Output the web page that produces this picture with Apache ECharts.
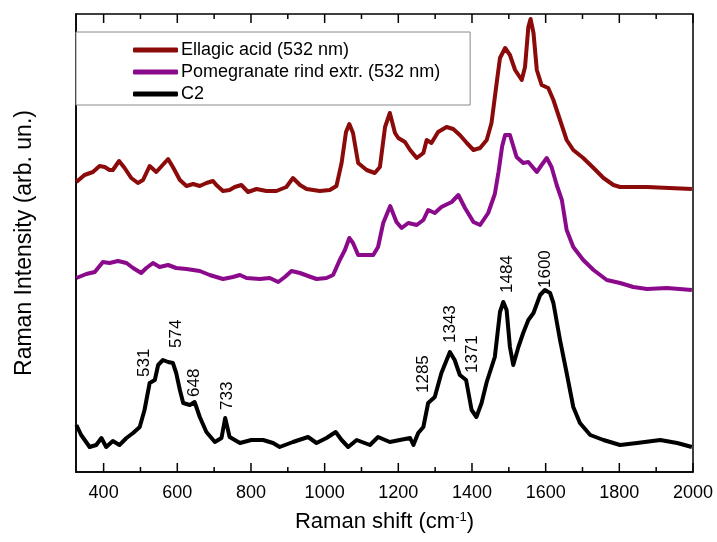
<!DOCTYPE html>
<html>
<head>
<meta charset="utf-8">
<script src="https://cdn.jsdelivr.net/npm/echarts@6/dist/echarts.min.js"></script>
<style>
  html, body { margin: 0; padding: 0; background: #fff; }
  #chart { width: 717px; height: 542px; }
</style>
</head>
<body>
<div id="chart"></div>
<script>
// Raman spectra, wavenumber (cm-1) vs arbitrary intensity (stacked offsets)
const ellagicX = [326,348,371,389,403,416,425,442,457,475,493,507,525,543,575,588,607,625,643,661,679,697,706,724,742,756,774,792,815,842,869,896,914,933,951,987,1014,1032,1046,1058,1067,1077,1091,1114,1136,1150,1164,1177,1191,1200,1218,1232,1250,1268,1277,1290,1308,1331,1349,1367,1386,1404,1422,1440,1453,1467,1476,1490,1503,1517,1535,1544,1553,1559,1567,1576,1589,1607,1621,1639,1657,1675,1702,1730,1757,1784,1802,1875,1997];
const ellagicY = [290,297,300,306,305,302,302,311,304,294,289,292,306,300,313,305,292,286,288,286,289,291,287,281,282,285,287,280,283,281,281,285,294,287,283,281,282,286,309,340,348,339,309,302,299,305,345,359,339,334,330,322,314,319,332,329,340,345,343,337,329,322,324,332,349,389,414,424,417,402,392,405,445,453,439,402,387,384,372,352,332,322,314,304,294,287,285,285,283];

const pomX = [326,353,376,398,416,439,462,480,502,516,534,552,575,597,625,661,688,724,751,770,788,824,851,874,892,910,933,955,978,1005,1023,1041,1055,1067,1077,1091,1132,1145,1159,1178,1195,1209,1227,1250,1268,1281,1299,1317,1345,1363,1381,1404,1422,1444,1462,1472,1482,1490,1503,1521,1539,1553,1576,1589,1603,1616,1630,1644,1657,1675,1702,1730,1766,1802,1838,1875,1929,1997];
const pomY = [194,198,200,210,209,211,209,204,199,204,209,205,207,204,203,201,197,193,195,197,194,193,194,190,195,201,199,196,193,194,197,212,222,234,229,217,217,225,249,266,250,244,249,247,252,262,259,265,270,277,264,250,247,259,278,300,326,337,337,315,309,310,300,307,314,305,287,272,242,225,212,202,192,189,185,183,184,182];

const c2X = [326,339,362,380,394,407,425,443,462,480,498,511,525,539,548,561,575,588,597,607,616,634,647,661,679,702,720,730,742,770,801,833,860,878,914,955,978,1005,1030,1046,1064,1087,1123,1145,1177,1204,1232,1241,1254,1268,1281,1299,1317,1340,1353,1367,1384,1399,1412,1426,1440,1462,1476,1485,1494,1503,1512,1526,1539,1553,1567,1585,1598,1612,1621,1639,1657,1675,1693,1721,1757,1802,1848,1911,1957,1997];
const c2Y = [47,37,25,27,34,25,31,27,34,39,45,62,89,92,107,112,110,109,99,82,69,67,70,55,40,30,34,54,35,29,32,32,29,25,30,35,29,34,40,32,25,32,27,35,30,32,34,27,39,45,69,75,99,120,112,97,92,62,55,69,90,115,160,170,162,125,107,125,139,152,159,177,182,179,169,132,99,65,49,37,32,27,29,32,29,25];

// peak annotations on C2 (label anchor = bottom of the rotated text)
const peakNames = ['531','574','648','733','1285','1343','1371','1484','1600'];
const peakX = [511,597,647,737,1267,1340,1400,1495,1598];
const peakY = [95,124,75,62,79,129,99,179,184];

const majorTicks = [400,600,800,1000,1200,1400,1600,1800,2000];
const minorTicks = [500,700,900,1100,1300,1500,1700,1900];

const seriesNames = ['Ellagic acid (532 nm)', 'Pomegranate rind extr. (532 nm)', 'C2'];
const seriesColors = ['#8b0a0a', '#8b0a8b', '#000000'];

const X_MIN = 325, X_MAX = 2000, Y_MIN = 0, Y_MAX = 458;

const zip = (xs, ys) => xs.map((x, i) => [x, ys[i]]);
const FONT = '"Liberation Sans", Arial, sans-serif';
const axisLineStyle = { color: '#000', width: 1.5 };

const chart = echarts.init(document.getElementById('chart'));

// inward ticks on bottom and top frame edges, placed through the x scale
function renderTick(params, api) {
    const v = api.value(0);
    const len = majorTicks.indexOf(v) >= 0 ? 9 : 5;
    const b = api.coord([v, Y_MIN]);
    const t = api.coord([v, Y_MAX]);
    const style = { stroke: '#000', lineWidth: 1.5 };
    return {
        type: 'group',
        children: [
            { type: 'line', shape: { x1: b[0], y1: b[1], x2: b[0], y2: b[1] - len }, style: style },
            { type: 'line', shape: { x1: t[0], y1: t[1], x2: t[0], y2: t[1] + len }, style: style },
        ],
    };
}

const option = {
    animation: false,
    textStyle: { fontFamily: FONT },
    grid: {
        left: 76, right: 24, top: 14, bottom: 70,
        show: true, borderColor: '#000', borderWidth: 1.5,
    },
    legend: {
        data: seriesNames,
        orient: 'vertical',
        left: 76, top: 32,
        backgroundColor: '#fff',
        borderColor: '#8a8a8a', borderWidth: 1,
        padding: [7, 30, 0, 57],
        itemGap: 0,
        itemWidth: 45, itemHeight: 5,
        icon: 'roundRect',
        textStyle: { fontSize: 18, color: '#000', lineHeight: 22, fontFamily: FONT, padding: [0, 0, 0, -2] },
    },
    xAxis: {
        type: 'value', min: X_MIN, max: X_MAX, position: 'bottom',
        splitLine: { show: false },
        axisLine: { show: true, onZero: false, lineStyle: axisLineStyle },
        name: 'Raman shift (cm{sup|-1})',
        nameLocation: 'middle', nameGap: 39,
        nameTextStyle: {
            fontSize: 22, color: '#000', fontFamily: FONT,
            rich: { sup: { fontSize: 13, verticalAlign: 'top', padding: [0, 0, 8, 0], fontFamily: FONT } },
        },
        axisTick: { show: false },
        axisLabel: { show: true, customValues: majorTicks, fontSize: 18, color: '#000', margin: 12, fontFamily: FONT,
            formatter: v => String(v) },
    },
    yAxis: {
        type: 'value', min: Y_MIN, max: Y_MAX, position: 'left',
        name: 'Raman Intensity (arb. un.)',
        nameLocation: 'middle', nameGap: 40,
        nameTextStyle: { fontSize: 23, color: '#000', fontFamily: FONT },
        axisLine: { show: true, onZero: false, lineStyle: axisLineStyle },
        axisTick: { show: false },
        axisLabel: { show: false },
        splitLine: { show: false },
    },
    series: [
        {
            name: seriesNames[0], type: 'line', symbol: 'none',
            data: zip(ellagicX, ellagicY),
            lineStyle: { color: seriesColors[0], width: 4, join: 'round' },
            itemStyle: { color: seriesColors[0] },
        },
        {
            name: seriesNames[1], type: 'line', symbol: 'none',
            data: zip(pomX, pomY),
            lineStyle: { color: seriesColors[1], width: 4, join: 'round' },
            itemStyle: { color: seriesColors[1] },
        },
        {
            name: seriesNames[2], type: 'line', symbol: 'none',
            data: zip(c2X, c2Y),
            lineStyle: { color: seriesColors[2], width: 4, join: 'round' },
            itemStyle: { color: seriesColors[2] },
        },
        {
            name: 'peaks', type: 'scatter', symbolSize: 0,
            data: peakNames.map((n, i) => ({ name: n, value: [peakX[i], peakY[i]] })),
            itemStyle: { opacity: 1 },
            label: {
                show: true, formatter: '{b}', rotate: 90,
                position: [0, 0], align: 'left', verticalAlign: 'middle',
                fontSize: 17, color: '#000', opacity: 1, fontFamily: FONT,
            },
            silent: true,
        },
        {
            name: 'ticks', type: 'custom', silent: true, clip: false, z: 5,
            data: majorTicks.concat(minorTicks).map(v => [v]),
            renderItem: renderTick,
        },
    ],
};

chart.setOption(option);
</script>
</body>
</html>
